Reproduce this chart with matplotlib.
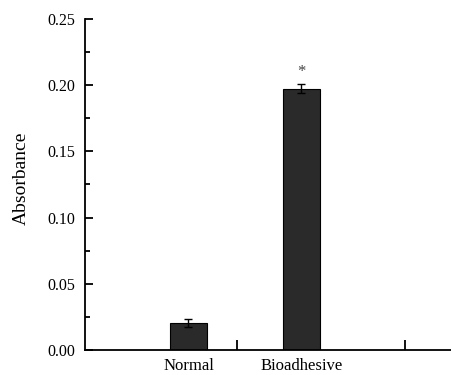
import matplotlib.pyplot as plt
from matplotlib.ticker import MultipleLocator

plt.rcParams["font.family"] = ["Liberation Serif", "DejaVu Serif"]

groups = ["Normal", "Bioadhesive"]
absorbance = [0.0201, 0.1974]
errors = [0.0030, 0.0035]
sig = ["", "*"]

fig = plt.figure(figsize=(4.51, 3.75), dpi=100)
ax = fig.add_axes([0.1885, 0.0667, 0.8115, 0.8826])

pos = [1, 2]
ax.bar(pos, absorbance, width=0.33, color="#2a2a2a", edgecolor="black", linewidth=0.8,
       yerr=errors, capsize=3, error_kw=dict(elinewidth=1, capthick=1, ecolor="black"))
for x, v, e, s in zip(pos, absorbance, errors, sig):
    if s:
        ax.text(x, v + e + 0.003, s, ha="center", va="bottom", fontsize=12, color="#444444")

ax.set_xlim(0.084, 3.324)
ax.set_ylim(0, 0.25)

ax.set_xticks(pos)
ax.set_xticklabels(groups, fontsize=12)
ax.tick_params(axis="x", which="major", length=0, pad=6)
ax.set_xticks([1.43, 2.915], minor=True)
ax.tick_params(axis="x", which="minor", direction="in", length=7, width=1.3)

ax.yaxis.set_major_locator(MultipleLocator(0.05))
ax.yaxis.set_minor_locator(MultipleLocator(0.025))
ax.yaxis.set_major_formatter(plt.FormatStrFormatter("%.2f"))
ax.tick_params(axis="y", which="major", direction="in", length=6, width=1.3, labelsize=11.5, pad=7)
ax.tick_params(axis="y", which="minor", direction="in", length=3.5, width=1.3)

ax.set_ylabel("Absorbance", fontsize=14)
ax.yaxis.set_label_coords(-0.15, 0.52)

for side in ["top", "right"]:
    ax.spines[side].set_visible(False)
for side in ["left", "bottom"]:
    ax.spines[side].set_linewidth(1.3)

fig.savefig("out.png", dpi=100)
